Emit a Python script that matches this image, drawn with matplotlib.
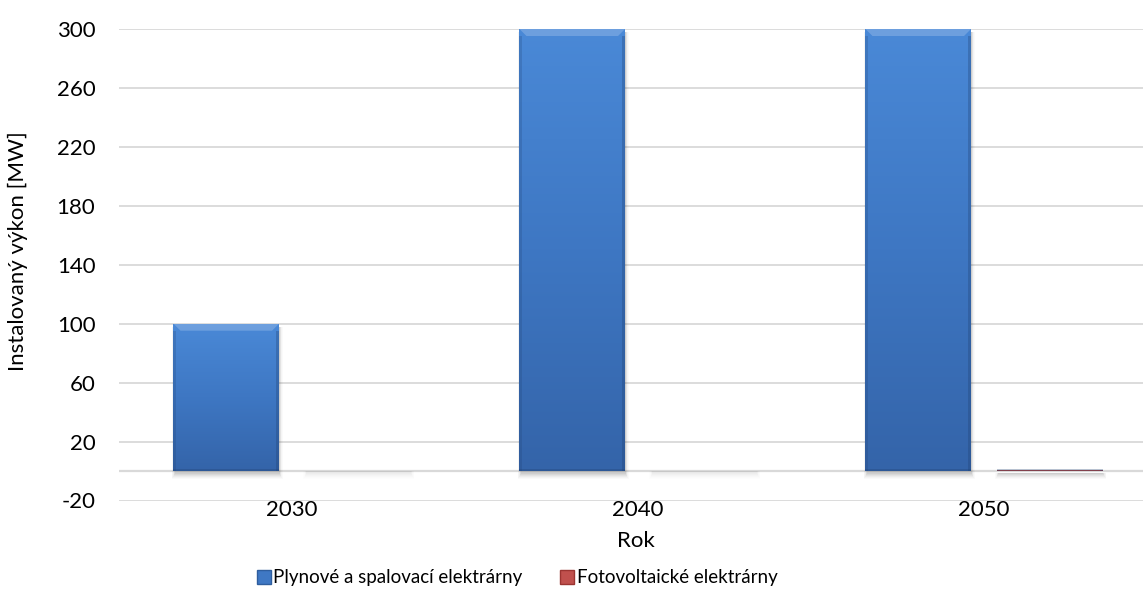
import matplotlib
matplotlib.use("Agg")
import matplotlib.pyplot as plt
import numpy as np
from matplotlib.patches import Patch, Rectangle, Polygon
from matplotlib.colors import LinearSegmentedColormap

# Data
years = ["2030", "2040", "2050"]
gas_plants = [100, 300, 300]
pv_plants = [0, 0, 1]
series_names = ["Plynové a spalovací elektrárny", "Fotovoltaické elektrárny"]
y_ticks = [-20, 20, 60, 100, 140, 180, 220, 260, 300]

plt.rcParams["font.family"] = ["Lato", "DejaVu Sans"]
plt.rcParams["axes.unicode_minus"] = False

W, H = 1143, 590
fig = plt.figure(figsize=(W / 100, H / 100), dpi=100)
ax = fig.add_axes([119 / W, 1 - 500.5 / H, 1038 / W, 471.5 / H])

x = np.arange(len(years))
bw = 0.305
off = 0.19

blue_bars = ax.bar(x - off, gas_plants, bw, color="#3f78c4", zorder=3)
red_bars = ax.bar(x + off, pv_plants, bw, color="#c0504d", zorder=3)

ax.set_xlim(-0.5, 2.5)
ax.set_ylim(-20, 300)

blue_map = LinearSegmentedColormap.from_list("b", ["#4a89d7", "#3e77c3", "#3464a9"])
red_map = LinearSegmentedColormap.from_list("r", ["#d68a88", "#c0504d", "#9b3431"])

# pixel -> data conversions for bevel/shadow sizes
ppx = 1.0 / 346.0
ppy = 320.0 / 471.5


def shade_bar(p, cmap):
    x0, y0 = p.get_x(), p.get_y()
    w, h = p.get_width(), p.get_height()
    h_eff = max(h, 0)
    # soft shadow around the lower part and right side of the bar
    k = 1.0 if h_eff > 0 else 0.35
    for i, a in enumerate([0.045, 0.04, 0.035, 0.03, 0.025, 0.02]):
        s = i + 1
        ax.add_patch(Rectangle((x0 - s * ppx * 0.6 + 2 * ppx, y0 - (s + 2) * ppy),
                               w + s * 1.2 * ppx - 2 * ppx,
                               h_eff + (s + 2) * ppy - (3 * ppy if h_eff > 0 else 0),
                               facecolor="#000000", edgecolor="none", alpha=a * k,
                               zorder=2))
    if h_eff <= 0:
        return
    grad = np.linspace(0, 1, 256).reshape(-1, 1)
    im = ax.imshow(grad, cmap=cmap, aspect="auto",
                   extent=[x0, x0 + w, y0, y0 + h], origin="upper", zorder=3.1)
    im.set_clip_path(p)
    # bevel: lighter top facet, darker sides and bottom
    bev_y = min(7 * ppy, h * 0.3)
    bev_x = min(7 * ppx, w * 0.3)
    top = Polygon([(x0, y0 + h), (x0 + w, y0 + h),
                   (x0 + w - bev_x, y0 + h - bev_y), (x0 + bev_x, y0 + h - bev_y)],
                  closed=True, facecolor="white", edgecolor="none", alpha=0.2, zorder=3.2)
    ax.add_patch(top)
    ax.add_patch(Rectangle((x0, y0), 3 * ppx, h - bev_y,
                           facecolor="#1f3f6f", edgecolor="none", alpha=0.22, zorder=3.2))
    ax.add_patch(Rectangle((x0 + w - 3 * ppx, y0), 3 * ppx, h - bev_y,
                           facecolor="#1f3f6f", edgecolor="none", alpha=0.3, zorder=3.2))
    ax.add_patch(Rectangle((x0, y0), w, 2 * ppy,
                           facecolor="#1f3f6f", edgecolor="none", alpha=0.3, zorder=3.2))


for p in blue_bars:
    shade_bar(p, blue_map)
for p in red_bars:
    shade_bar(p, red_map)
    if p.get_height() > 0:
        p.set_facecolor("#d08a88")

# grid and axes styling
ax.set_yticks(y_ticks)
ax.yaxis.grid(True, color="#d9d9d9", linewidth=1.3, zorder=0)
ax.set_axisbelow(True)
ax.axhline(0, color="#d9d9d9", linewidth=1.6, zorder=1)
for s in ax.spines.values():
    s.set_visible(False)
ax.tick_params(axis="y", length=0, pad=17, labelsize=16, labelcolor="#000000")
ax.set_xticks(x)
ax.set_xticklabels(years)
ax.tick_params(axis="x", length=0, pad=0, labelsize=16, labelcolor="#000000")

fig.text(18 / W, 1 - 251 / H, "Instalovaný výkon [MW]", rotation=90,
         ha="center", va="center", fontsize=16)
fig.text(636 / W, 1 - 541 / H, "Rok", ha="center", va="center", fontsize=16)

handles = [Patch(facecolor="#3f78c4", edgecolor="#2f5e9e"),
           Patch(facecolor="#c0504d", edgecolor="#9b3431")]
fig.legend(handles, series_names, loc="center", bbox_to_anchor=(517 / W, 1 - 578 / H),
           ncol=2, frameon=False, fontsize=13.5, handlelength=0.75, handleheight=0.75,
           handletextpad=0.15, columnspacing=1.98, borderpad=0)

fig.savefig("out.png", dpi=100)
